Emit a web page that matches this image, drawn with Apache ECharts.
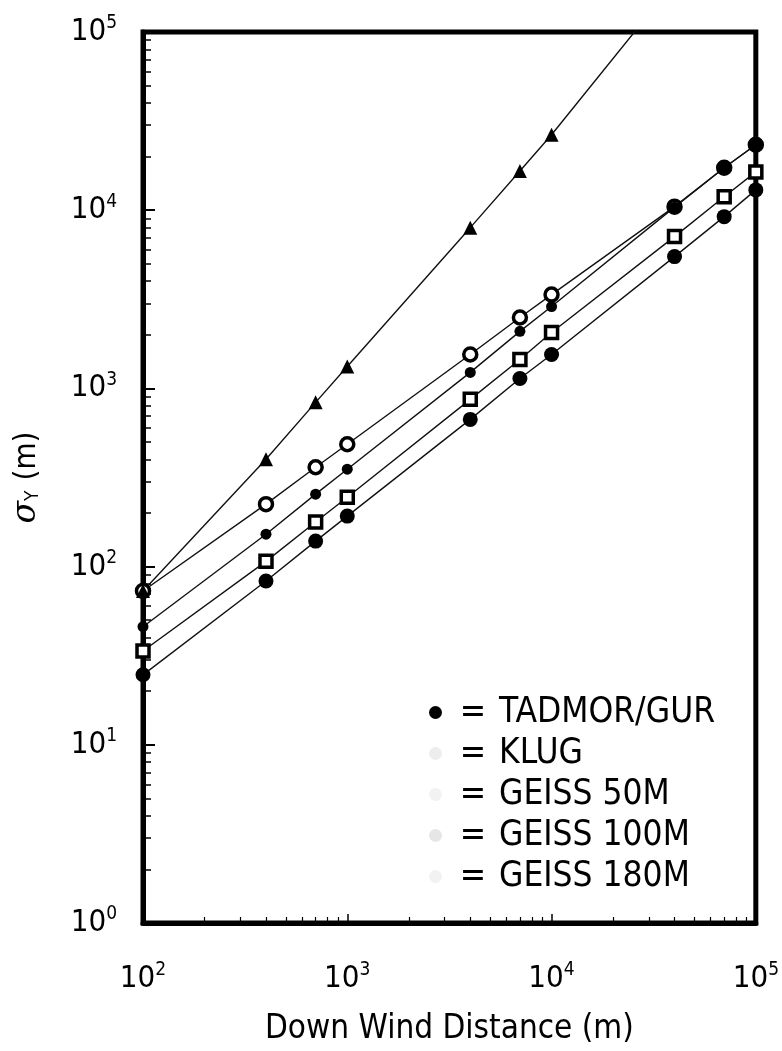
<!DOCTYPE html>
<html>
<head>
<meta charset="utf-8">
<title>sigma Y vs down wind distance</title>
<style>
    html,body{margin:0;padding:0;background:#fff;}
    #main{width:782px;height:1051px;}
</style>
</head>
<body>
<div id="main"></div>
<script src="https://cdn.jsdelivr.net/npm/echarts@6/dist/echarts.min.js"></script>
<script>
    // 横轴: 下风距离 (m)
    var distance = [100, 400, 700, 1000, 4000, 7000, 10000, 40000, 70000, 100000];
    // 各模型的 sigma Y (m)
    var tadmorGur = [24.7, 83, 139, 192, 670, 1137, 1550, 5490, 9200, 13000];
    var klug      = [73, 224, 361, 486, 1550, 2500, 3360, 10470, 17300, 23300];
    var geiss50   = [73, 400, 835, 1328, 7980, 16600, 26500, 190000];
    var geiss100  = [46, 152, 255, 352, 1230, 2090, 2880, 10400, 17300, 23300];
    var geiss180  = [33.6, 107, 178, 245, 868, 1454, 2060, 7110, 11900, 16400];
    var seriesNames = ['TADMOR/GUR', 'KLUG', 'GEISS 50M', 'GEISS 100M', 'GEISS 180M'];

    var font = "'DejaVu Sans Condensed', 'Liberation Sans Narrow', 'DejaVu Sans', sans-serif";

    function pairs(ys) {
        return ys.map(function (v, i) { return [distance[i], v]; });
    }
    // 10 的幂标签
    function powLabel(v) {
        return '{a|10}{b|' + Math.round(Math.log10(v)) + '}';
    }
    var powRich = {
        a: {fontSize: 31, fontFamily: font, color: '#000', lineHeight: 36},
        b: {fontSize: 19, fontFamily: font, color: '#000', verticalAlign: 'top', lineHeight: 18}
    };

    function line(name, ys, symbol, size, hollow) {
        return {
            name: name,
            type: 'line',
            data: pairs(ys),
            symbol: symbol,
            symbolSize: size,
            showAllSymbol: true,
            clip: true,
            lineStyle: {color: '#111', width: 1.4},
            itemStyle: hollow
                ? {color: '#fff', borderColor: '#000', borderWidth: 3.5}
                : {color: '#000', borderColor: '#000', borderWidth: 0},
            emphasis: {disabled: true},
            animation: false
        };
    }

    var chart = echarts.init(document.getElementById('main'));
    var option = {
        animation: false,
        grid: {left: 143, right: 19, top: 32, bottom: 126, show: true, borderColor: '#000', borderWidth: 5},
        legend: {
            orient: 'vertical',
            left: 424,
            top: 690,
            itemWidth: 13,
            itemHeight: 13,
            itemGap: 6,
            selectedMode: false,
            data: [
                {name: 'TADMOR/GUR', icon: 'circle', itemStyle: {color: '#000', borderWidth: 0}},
                {name: 'KLUG', icon: 'circle', itemStyle: {color: '#ededed', borderWidth: 0}},
                {name: 'GEISS 50M', icon: 'circle', itemStyle: {color: '#f2f2f2', borderWidth: 0}},
                {name: 'GEISS 100M', icon: 'circle', itemStyle: {color: '#e6e6e6', borderWidth: 0}},
                {name: 'GEISS 180M', icon: 'circle', itemStyle: {color: '#f2f2f2', borderWidth: 0}}
            ],
            formatter: function (name) { return '{eq|=}{t|' + name + '}'; },
            textStyle: {
                fontFamily: font, fontSize: 35, color: '#000', lineHeight: 34,
                rich: {
                    eq: {fontSize: 35, fontFamily: font, color: '#000', width: 52, align: 'center'},
                    t: {fontSize: 35, fontFamily: font, color: '#000'}
                }
            }
        },
        xAxis: {
            type: 'log',
            logBase: 10,
            min: 100,
            max: 100000,
            name: 'Down Wind Distance (m)',
            nameLocation: 'middle',
            nameGap: 90,
            nameTextStyle: {fontFamily: font, fontSize: 33, color: '#000'},
            axisLine: {lineStyle: {color: '#000', width: 5}},
            axisTick: {inside: true, length: 9, lineStyle: {color: '#000', width: 1.5}},
            minorTick: {show: true, splitNumber: 9, length: 6, lineStyle: {color: '#000', width: 1.2}},
            axisLabel: {formatter: powLabel, rich: powRich, margin: 38},
            splitLine: {show: false}
        },
        yAxis: {
            type: 'log',
            logBase: 10,
            min: 1,
            max: 100000,
            name: '{s|σ}{y|Y}{m|(m)}',
            nameLocation: 'middle',
            nameGap: 100,
            nameTextStyle: {
                color: '#000',
                rich: {
                    s: {fontFamily: "'DejaVu Serif', serif", fontStyle: 'italic', fontSize: 33, color: '#000'},
                    y: {fontFamily: font, fontSize: 19, color: '#000', verticalAlign: 'bottom', padding: [14, 0, 0, 0]},
                    m: {fontFamily: font, fontSize: 31, color: '#000', padding: [0, 0, 0, 10]}
                }
            },
            axisLine: {lineStyle: {color: '#000', width: 5}},
            axisTick: {inside: true, length: 12, lineStyle: {color: '#000', width: 2}},
            minorTick: {show: true, splitNumber: 9, length: 8, lineStyle: {color: '#000', width: 1.5}},
            axisLabel: {formatter: powLabel, rich: powRich, margin: 26},
            splitLine: {show: false}
        },
        series: [
            line(seriesNames[0], tadmorGur, 'circle', 15, false),
            line(seriesNames[1], klug, 'circle', 13, true),
            line(seriesNames[2], geiss50, 'triangle', 14, false),
            line(seriesNames[3], geiss100, 'circle', 11, false),
            line(seriesNames[4], geiss180, 'rect', 12, true)
        ]
    };
    chart.setOption(option);
</script>
</body>
</html>
